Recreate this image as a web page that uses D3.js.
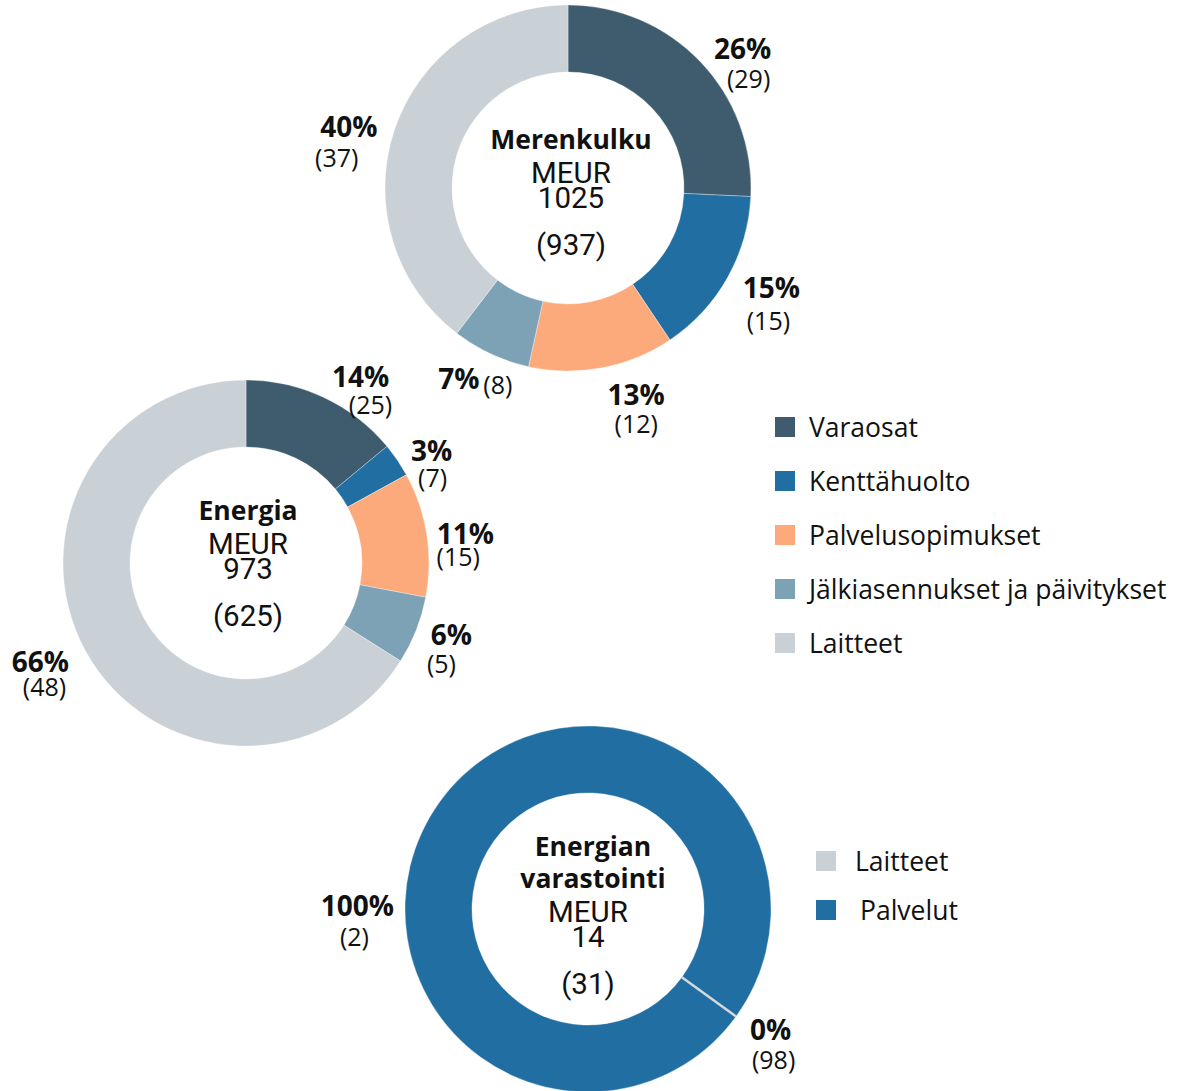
<!DOCTYPE html>
<html>
<head>
<meta charset="utf-8">
<script src="https://cdn.jsdelivr.net/npm/d3@7"></script>
<style>
  html, body { margin: 0; padding: 0; background: #fff; }
  svg { display: block; }
</style>
</head>
<body>
<svg id="chart" width="1178" height="1091"></svg>
<script>
// Service sales split by category, MEUR share (previous year in parentheses)
const categories = ["Varaosat", "Kenttähuolto", "Palvelusopimukset", "Jälkiasennukset ja päivitykset", "Laitteet"];
const colors = ["#3f5b6e", "#216fa2", "#fcaa7b", "#7da2b6", "#c9d0d6"];

const merenkulkuShare = [26, 15, 13, 7, 40];
const merenkulkuPrev = [29, 15, 12, 8, 37];
const merenkulkuTotal = 1025;
const merenkulkuTotalPrev = 937;

const energiaShare = [14, 3, 11, 6, 66];
const energiaPrev = [25, 7, 15, 5, 48];
const energiaTotal = 973;
const energiaTotalPrev = 625;

const storageCategories = ["Laitteet", "Palvelut"];
const storageColors = ["#c9d0d6", "#216fa2"];
const storageShare = [0, 100];
const storagePrev = [98, 2];
const storageTotal = 14;
const storageTotalPrev = 31;

const svg = d3.select("#chart");
const OUTER = 183, INNER = 116, LABEL_R = 222;
const SANS = "'Open Sans', 'Noto Sans', sans-serif";
const NUM = "Roboto, 'Liberation Sans', Arial, sans-serif";

// Label nudges per slice: [pct dx, pct dy, value dx, value dy] from the mid-angle anchor
const merenkulkuNudge = [[14, 13, 20, 43], [10, -10, 7, 23], [27, -12, 27, 17], [5, -11, 9, -5], [-9, 9, -21, 40]];
const energiaNudge = [[20, 14, 30, 42], [2, 12, 3, 39], [0, 5, -7, 28], [-1, -11, -11, 18], [-11, -9, -7, 16]];
const storageNudge = [[3, -10, 6, 20], [-51, 126, -54, 157]];

function donut(opts) {
  const g = svg.append("g").attr("transform", `translate(${opts.cx},${opts.cy})`);
  const pie = d3.pie().sort(null).value(d => d.share)
    .startAngle(opts.start || 0).endAngle((opts.start || 0) + 2 * Math.PI);
  const arc = d3.arc().innerRadius(INNER).outerRadius(OUTER);
  const data = opts.share.map((s, i) => ({ share: s, prev: opts.prev[i], color: opts.colors[i], nudge: opts.nudge[i], inline: opts.inline === i }));
  const arcs = pie(data);

  g.selectAll("path.slice").data(arcs.filter(a => a.endAngle > a.startAngle)).join("path")
    .attr("class", "slice")
    .attr("d", arc)
    .attr("fill", d => d.data.color)
    .attr("stroke", "#ffffff")
    .attr("stroke-opacity", 0.55)
    .attr("stroke-width", 0.6);

  // zero-width slices show as a single radial rule
  g.selectAll("line.zero").data(arcs.filter(a => a.endAngle === a.startAngle)).join("line")
    .attr("class", "zero")
    .attr("x1", d => INNER * Math.sin(d.startAngle))
    .attr("y1", d => -INNER * Math.cos(d.startAngle))
    .attr("x2", d => OUTER * Math.sin(d.startAngle))
    .attr("y2", d => -OUTER * Math.cos(d.startAngle))
    .attr("stroke", "#d4d9dd")
    .attr("stroke-width", 2.5);

  arcs.forEach(a => {
    const mid = (a.startAngle + a.endAngle) / 2;
    const ax = LABEL_R * Math.sin(mid), ay = -LABEL_R * Math.cos(mid);
    const n = a.data.nudge;
    g.append("text")
      .attr("x", ax + n[0]).attr("y", ay + n[1])
      .attr("text-anchor", a.data.inline ? "end" : "middle")
      .attr("dominant-baseline", "central")
      .style("font-family", SANS).style("font-weight", 700).style("font-size", "28px")
      .attr("fill", "#111")
      .text(a.data.share + "%");
    g.append("text")
      .attr("x", ax + n[2]).attr("y", ay + n[3])
      .attr("text-anchor", a.data.inline ? "start" : "middle")
      .attr("dominant-baseline", "central")
      .style("font-family", SANS).style("font-weight", 400).style("font-size", "25px")
      .attr("fill", "#111")
      .text("(" + a.data.prev + ")");
  });

  // centre block
  const c = g.append("g").attr("text-anchor", "middle").attr("fill", "#111");
  const y = opts.titleY;
  opts.title.forEach((t, i) => {
    c.append("text").attr("x", opts.titleDx).attr("y", y + i * 32)
      .style("font-family", SANS).style("font-weight", 700).style("font-size", "26.5px")
      .text(t);
  });
  const base = opts.titleY + (opts.title.length - 1) * 32;
  const nx = opts.titleDx > 3 ? 0 : opts.titleDx;
  c.append("text").attr("x", nx).attr("y", base + 34)
    .style("font-family", NUM).style("font-size", "29.5px").text("MEUR");
  c.append("text").attr("x", nx).attr("y", base + 59)
    .style("font-family", NUM).style("font-size", "29.5px").text(opts.total);
  c.append("text").attr("x", nx).attr("y", base + 106)
    .style("font-family", NUM).style("font-size", "29.5px").text("(" + opts.totalPrev + ")");
}

donut({ cx: 568, cy: 188, share: merenkulkuShare, prev: merenkulkuPrev, colors: colors,
        nudge: merenkulkuNudge, inline: 3, title: ["Merenkulku"], titleY: -39, titleDx: 3,
        total: merenkulkuTotal, totalPrev: merenkulkuTotalPrev });

donut({ cx: 246, cy: 563, share: energiaShare, prev: energiaPrev, colors: colors,
        nudge: energiaNudge, title: ["Energia"], titleY: -43, titleDx: 2,
        total: energiaTotal, totalPrev: energiaTotalPrev });

donut({ cx: 588, cy: 909, share: storageShare, prev: storagePrev, colors: storageColors,
        nudge: storageNudge, title: ["Energian", "varastointi"], titleY: -53, titleDx: 5, start: 126 * Math.PI / 180,
        total: storageTotal, totalPrev: storageTotalPrev });

// Legends
function legend(x, y, step, textX, items, cols, lastDx) {
  const lg = svg.append("g").attr("transform", `translate(${x},${y})`);
  const row = lg.selectAll("g").data(items).join("g")
    .attr("transform", (d, i) => `translate(0,${i * step})`);
  row.append("rect").attr("x", 0).attr("y", -10).attr("width", 20).attr("height", 20)
    .attr("fill", (d, i) => cols[i]);
  row.append("text").attr("x", (d, i) => textX + (i === items.length - 1 ? lastDx : 0)).attr("y", 0)
    .attr("dominant-baseline", "central")
    .style("font-family", SANS).style("font-size", "26.5px").attr("fill", "#111")
    .text(d => d);
}
legend(775, 427, 54, 34, categories, colors, 0);
legend(816, 861, 49, 39, storageCategories, storageColors, 5);
</script>
</body>
</html>
